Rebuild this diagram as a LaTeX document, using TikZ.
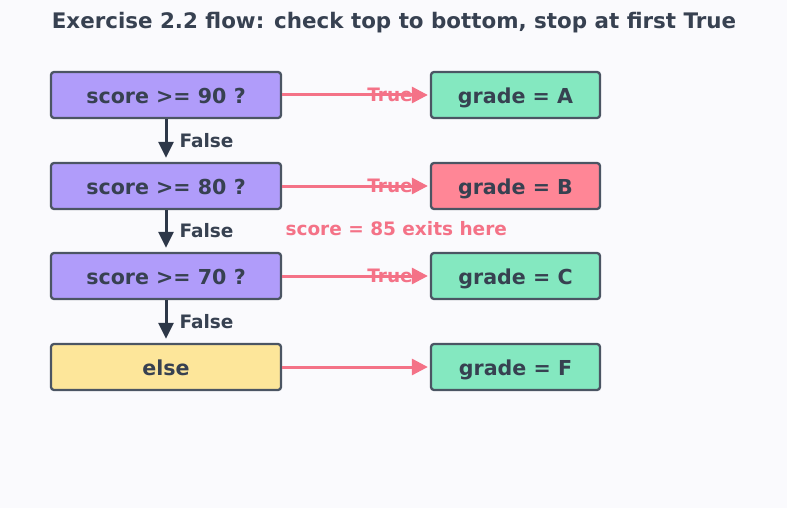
\documentclass[tikz,border=0pt]{standalone}
\usepackage{fontspec}
\setmainfont{DejaVu Sans}
\usetikzlibrary{arrows.meta}
\definecolor{bgc}{HTML}{FAFAFD}
\definecolor{txt}{HTML}{374151}
\definecolor{edge}{HTML}{4B5563}
\definecolor{purp}{HTML}{B09CFA}
\definecolor{grn}{HTML}{84E8C0}
\definecolor{redb}{HTML}{FF8696}
\definecolor{yel}{HTML}{FDE69A}
\definecolor{pink}{HTML}{F47287}
\definecolor{darka}{HTML}{2D3748}
\tikzset{
  box/.style={draw=edge, line width=2.3pt, rounded corners=3pt, text=txt, font=\fontsize{20.6}{22}\selectfont\bfseries, inner sep=0pt, minimum height=46pt, text height=17.5pt, text depth=0pt},
  condbox/.style={box, fill=purp, minimum width=230pt},
  elsebox/.style={box, fill=yel, minimum width=230pt},
  resbox/.style={box, fill=grn, minimum width=169pt},
  hitbox/.style={box, fill=redb, minimum width=169pt},
  truearrow/.style={draw=pink, line width=3pt, -{Triangle[length=16pt,width=16pt]}},
  falsearrow/.style={draw=darka, line width=3pt, -{Triangle[length=16pt,width=15pt]}},
  lbl/.style={font=\fontsize{18.5}{20}\selectfont\bfseries},
}
\begin{document}
\begin{tikzpicture}[x=1pt,y=-1pt]
\fill[bgc] (0,0) rectangle (787,508);
\useasboundingbox (0,0) rectangle (787,508);
\node[text=txt, font=\fontsize{21.4}{24}\selectfont\bfseries] (title) at (394,23) {Exercise 2.2 flow: check top to bottom, stop at first True};
\node[condbox] (c1) at (166,95) {score >= 90 ?};
\node[condbox] (c2) at (166,186) {score >= 80 ?};
\node[condbox] (c3) at (166,276) {score >= 70 ?};
\node[elsebox] (c4) at (166,367) {else};
\node[resbox] (r1) at (515.5,95) {grade = A};
\node[hitbox] (r2) at (515.5,186) {grade = B};
\node[resbox] (r3) at (515.5,276) {grade = C};
\node[resbox] (r4) at (515.5,367) {grade = F};
\foreach \i in {1,...,4}{\draw[truearrow] (c\i.east) -- ([xshift=-2pt]r\i.west);}
\foreach \i in {1,2,3}{\node[lbl, text=pink] (t\i) at (390,0 |- c\i) {True};}
\foreach \i/\j in {1/2,2/3,3/4}{
  \draw[falsearrow] (c\i.south) -- ([yshift=4pt]c\j.north) coordinate[midway] (m\i);
  \node[lbl, text=txt, anchor=west] (f\i) at ([xshift=10pt,yshift=-2pt]m\i) {False};
}
\node[lbl, text=pink, anchor=west] (note) at (282,229) {score = 85 exits here};
\end{tikzpicture}
\end{document}
